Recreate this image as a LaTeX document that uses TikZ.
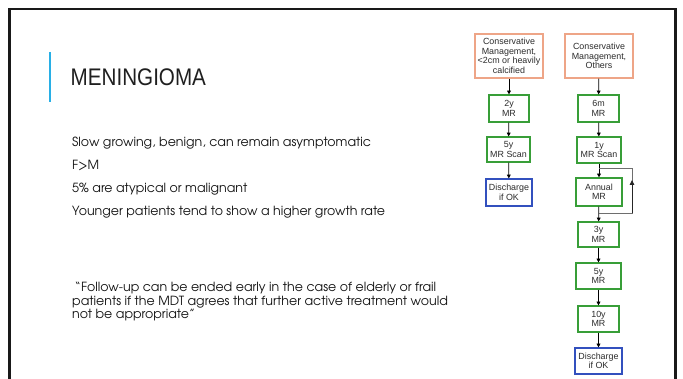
\documentclass[tikz,border=0pt]{standalone}
\usepackage{fontspec}
\setmainfont{TeX Gyre Adventor}
\newfontfamily\arialf{Liberation Sans}
\usetikzlibrary{arrows.meta}
\definecolor{orangec}{RGB}{238,165,135}
\definecolor{greenc}{RGB}{56,158,56}
\definecolor{bluec}{RGB}{50,80,190}
\definecolor{accentc}{RGB}{40,175,230}
\definecolor{loopc}{RGB}{110,110,110}
\definecolor{boxtext}{RGB}{45,45,45}
\tikzset{
  fbox/.style={draw, line width=1.2pt, inner sep=0.5pt, align=center, fill=white,
    text=boxtext, font=\arialf\fontsize{8.9}{9.5}\selectfont},
  orangebox/.style={fbox, draw=orangec},
  greenbox/.style={fbox, draw=greenc},
  bluebox/.style={fbox, draw=bluec},
  flowarrow/.style={-{Triangle[width=3.8pt,length=3.8pt]}, line width=0.8pt, black},
  loopline/.style={line width=0.9pt, loopc},
  bodytext/.style={anchor=base west, inner sep=0pt, text=black!92,
    font=\fontsize{12.6}{13.3}\selectfont},
}
\begin{document}
\begin{tikzpicture}[x=1pt,y=-1pt]
\useasboundingbox (0,0) rectangle (683,379);
% slide frame
\draw[line width=2.3pt, black!90] (9.5,381) -- (9.5,8.7) -- (675.5,8.7) -- (675.5,381);
% accent line
\draw[line width=1.1pt, accentc] (50,52) -- (50,102);
% title
\node[anchor=base west, inner sep=0pt, font=\arialf\fontsize{24}{24}\selectfont, text=black!88]
  (title) at (70.5,85.3) {\scalebox{0.86}[1]{MENINGIOMA}};
% bullet text
\node[bodytext] (t1) at (72,147) {Slow growing, benign, can remain asymptomatic};
\node[bodytext] (t2) at (72,170) {F>M};
\node[bodytext] (t3) at (72,193) {5\% are atypical or malignant};
\node[bodytext] (t4) at (72,216) {Younger patients tend to show a higher growth rate};
\node[bodytext] (q1) at (74.5,292) {“Follow-up can be ended early in the case of elderly or frail};
\node[bodytext] (q2) at (72,305.3) {patients if the MDT agrees that further active treatment would};
\node[bodytext] (q3) at (72,318.6) {not be appropriate”};
% left column
\node[orangebox, minimum width=68pt, minimum height=44pt] (a) at (509,56)
  {Conservative\\Management,\\<2cm or heavily\\calcified};
\node[greenbox, minimum width=40pt, minimum height=27pt] (b) at (509,108.5) {2y\\MR};
\node[greenbox, minimum width=43pt, minimum height=25pt] (c) at (508.5,149.5) {5y\\MR Scan};
\node[bluebox, minimum width=46pt, minimum height=27pt] (d) at (509,192.5) {Discharge\\if OK};
% right column
\node[orangebox, minimum width=68pt, minimum height=44pt] (e) at (599,56)
  {Conservative\\Management,\\Others};
\node[greenbox, minimum width=41pt, minimum height=27pt] (f) at (598.5,108.5) {6m\\MR};
\node[greenbox, minimum width=44pt, minimum height=26pt] (g) at (599,150) {1y\\MR Scan};
\node[greenbox, minimum width=46pt, minimum height=28pt] (h) at (599,192) {Annual\\MR};
\node[greenbox, minimum width=41pt, minimum height=25pt] (i) at (598.5,234.5) {3y\\MR};
\node[greenbox, minimum width=45pt, minimum height=26pt] (j) at (598.5,276) {5y\\MR};
\node[greenbox, minimum width=41pt, minimum height=26pt] (k) at (598.5,319) {10y\\MR};
\node[bluebox, minimum width=47pt, minimum height=26pt] (l) at (598.5,361) {Discharge\\if OK};
% arrows
\draw[flowarrow] (a) -- (b);
\draw[flowarrow] (b) -- (c);
\draw[flowarrow] (c) -- (d);
\draw[flowarrow] (e) -- (f);
\draw[flowarrow] (f) -- (g);
\draw[flowarrow] (g) -- (h);
\draw[flowarrow] (h) -- (i);
\draw[flowarrow] (i) -- (j);
\draw[flowarrow] (j) -- (k);
\draw[flowarrow] (k) -- (l);
% loop
\coordinate (lt) at (599,168);
\coordinate (lb) at (599,213);
\coordinate (rt) at (632,168);
\coordinate (rb) at (632,213);
\coordinate (rm) at (632,180);
\draw[loopline] (lb) -- (rb) -- (rt) -- (lt);
\draw[loopline, -{Triangle[width=4.4pt,length=4.8pt]}, black!85] (rb) -- (rm);
\end{tikzpicture}
\end{document}
